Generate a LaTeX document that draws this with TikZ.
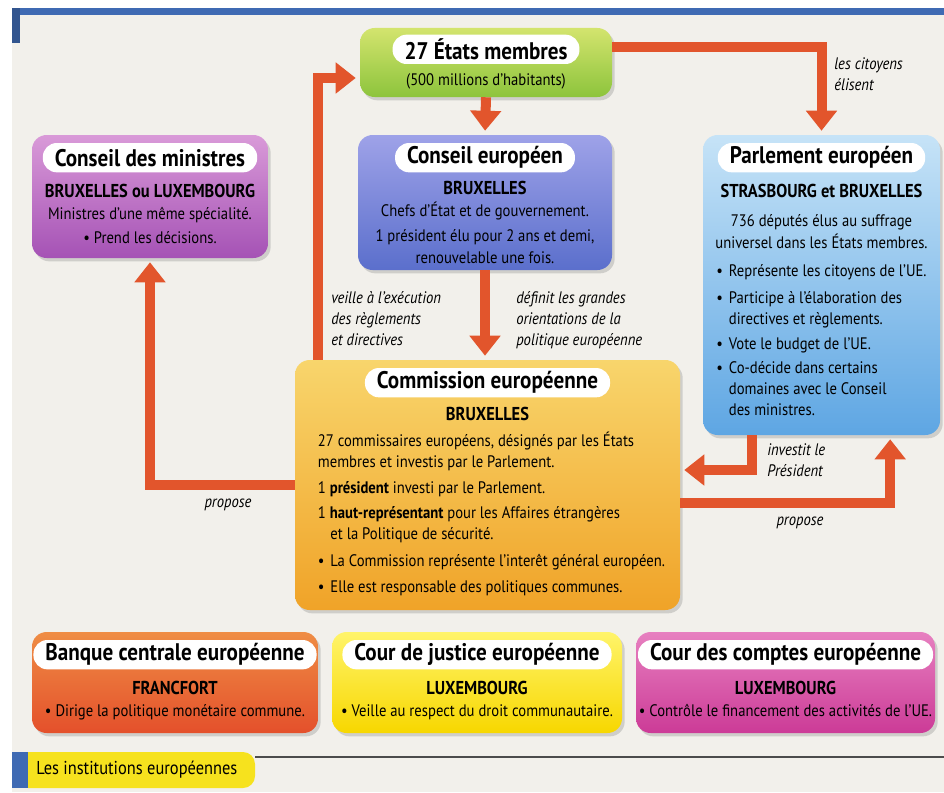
\documentclass[tikz,border=0pt]{standalone}
\usepackage{fontspec}
\setmainfont{PT Sans}[FakeStretch=0.88]
\usetikzlibrary{positioning,shadows,arrows.meta}
\definecolor{pagebg}{HTML}{F2F0EB}
\definecolor{bandblue}{HTML}{3F6AB3}
\definecolor{flowred}{HTML}{E2552C}
\definecolor{captionyellow}{HTML}{F6E21E}
\definecolor{etatstop}{HTML}{D3E46E}
\definecolor{etatsbottom}{HTML}{8DC43C}
\definecolor{ministrestop}{HTML}{D99AD8}
\definecolor{ministresbottom}{HTML}{A552B5}
\definecolor{conseiltop}{HTML}{9EA2E8}
\definecolor{conseilbottom}{HTML}{5B6FCC}
\definecolor{parlementtop}{HTML}{C6E3F7}
\definecolor{parlementbottom}{HTML}{5EA6E3}
\definecolor{commissiontop}{HTML}{F8D56C}
\definecolor{commissionbottom}{HTML}{F0A328}
\definecolor{banquetop}{HTML}{EF8D45}
\definecolor{banquebottom}{HTML}{E4502B}
\definecolor{justicetop}{HTML}{FFF46A}
\definecolor{justicebottom}{HTML}{F7D700}
\definecolor{comptestop}{HTML}{E780C0}
\definecolor{comptesbottom}{HTML}{CC3B97}
\newcommand{\puce}{\makebox[0.75em][l]{•}}
\newcommand{\suite}{\hspace*{0.75em}}
\tikzset{
	box/.style={rounded corners=11pt, drop shadow={opacity=0.3, shadow xshift=2pt, shadow yshift=-2.5pt}},
	pill/.style={fill=white, rounded corners=10.5pt, inner xsep=9pt, inner ysep=0pt, minimum height=22pt, font=\fontsize{18}{20}\selectfont\bfseries},
	place/.style={inner sep=0pt, font=\fontsize{14}{16}\selectfont\bfseries},
	body/.style={inner sep=0pt, align=center, font=\fontsize{12.5}{16.5}\selectfont},
	items/.style={inner sep=0pt, align=left, font=\fontsize{12.5}{15.75}\selectfont},
	note/.style={inner sep=0pt, align=left, font=\fontsize{12.5}{15.75}\selectfont\itshape},
	flow/.style={draw=flowred, line width=7.5pt, ->, shorten >=3pt},
}
\begin{document}
\begin{tikzpicture}[x=0.75pt, y=-0.75pt, >={Triangle[width=22.5pt,length=15pt]}]
	\useasboundingbox (0,0) rectangle (944,792);
	\fill[white] (0,0) rectangle (944,792);
	\fill[pagebg] (12,8) rectangle (944,792);
	\fill[bandblue] (12,8) rectangle (944,15);
	\fill[bandblue!80!black] (12,8) rectangle (20,43);

	% boxes
	\node[box, top color=etatstop, bottom color=etatsbottom, minimum width=189pt, minimum height=51.75pt] (etats) at (486,62.5) {};
	\node[box, top color=ministrestop, bottom color=ministresbottom, minimum width=177pt, minimum height=92.25pt] (ministres) at (150,196.5) {};
	\node[box, top color=conseiltop, bottom color=conseilbottom, minimum width=190.5pt, minimum height=101.25pt] (conseil) at (485,202.5) {};
	\node[box, top color=parlementtop, bottom color=parlementbottom, minimum width=177.75pt, minimum height=225pt] (parlement) at (821.5,285) {};
	\node[box, top color=commissiontop, bottom color=commissionbottom, minimum width=288.75pt, minimum height=187.5pt] (commission) at (487.5,485) {};
	\node[box, top color=banquetop, bottom color=banquebottom, minimum width=214.5pt, minimum height=75.75pt] (banque) at (175,682.5) {};
	\node[box, top color=justicetop, bottom color=justicebottom, minimum width=217.5pt, minimum height=75.75pt] (justice) at (477,682.5) {};
	\node[box, top color=comptestop, bottom color=comptesbottom, minimum width=224.25pt, minimum height=75.75pt] (comptes) at (785.5,682.5) {};

	% titles and texts
	\node[pill, below=5pt of etats.north] (etatstitle) {27 États membres};
	\node[body, below=6.5pt of etatstitle] (etatstext) {(500 millions d’habitants)};

	\node[pill, below=6pt of ministres.north] (ministrestitle) {Conseil des ministres};
	\node[place, below=8.5pt of ministrestitle] (ministresplace) {BRUXELLES ou LUXEMBOURG};
	\node[body, below=6.5pt of ministresplace] (ministrestext) {Ministres d’une même spécialité.\\[2pt]• Prend les décisions.};

	\node[pill, below=6pt of conseil.north] (conseiltitle) {Conseil européen};
	\node[place, below=6.5pt of conseiltitle] (conseilplace) {BRUXELLES};
	\node[body, below=5pt of conseilplace] (conseiltext) {Chefs d’État et de gouvernement.\\[2pt]1 président élu pour 2 ans et demi,\\renouvelable une fois.};

	\node[pill, below=6pt of parlement.north] (parlementtitle) {Parlement européen};
	\node[place, below=8.5pt of parlementtitle] (parlementplace) {STRASBOURG et BRUXELLES};
	\node[body, below=12pt of parlementplace] (parlementtext) {736 députés élus au suffrage\\universel dans les États membres.};
	\node[items, below=11.5pt of parlementtext] (parlementitems) {\puce Représente les citoyens de l’UE.\\[4.5pt]
		\puce Participe à l’élaboration des\\\suite directives et règlements.\\[3pt]
		\puce Vote le budget de l’UE.\\[2.5pt]
		\puce Co-décide dans certains\\\suite domaines avec le Conseil\\\suite des ministres.};

	\node[pill, below=6pt of commission.north] (commissiontitle) {Commission européenne};
	\node[place, below=7pt of commissiontitle] (commissionplace) {BRUXELLES};
	\node[items, below=8pt of commissionplace, xshift=3pt] (commissiontext) {27 commissaires européens, désignés par les États\\membres et investis par le Parlement.\\[4pt]
		1 \textbf{président} investi par le Parlement.\\[3pt]
		1 \textbf{haut-représentant} pour les Affaires étrangères\\\suite et la Politique de sécurité.\\[4pt]
		\puce La Commission représente l’interêt général européen.\\[4pt]
		\puce Elle est responsable des politiques communes.};

	\node[pill, below=6pt of banque.north] (banquetitle) {Banque centrale européenne};
	\node[place, below=8.5pt of banquetitle] (banqueplace) {FRANCFORT};
	\node[body, below=7pt of banqueplace] (banquetext) {• Dirige la politique monétaire commune.};

	\node[pill, below=6pt of justice.north] (justicetitle) {Cour de justice européenne};
	\node[place, below=8.5pt of justicetitle] (justiceplace) {LUXEMBOURG};
	\node[body, below=7pt of justiceplace] (justicetext) {• Veille au respect du droit communautaire.};

	\node[pill, below=6pt of comptes.north] (comptestitle) {Cour des comptes européenne};
	\node[place, below=8.5pt of comptestitle] (comptesplace) {LUXEMBOURG};
	\node[body, below=7pt of comptesplace] (comptestext) {• Contrôle le financement des activités de l’UE.};

	% arrows
	\coordinate (veillebend) at (318,78);
	\draw[flow] (etats.south) -- (conseil.north);
	\draw[flow] ([yshift=11.5pt]etats.east) -| (parlement.north);
	\draw[flow] (conseil.south) -- (conseil.south |- commission.north);
	\draw[flow] (veillebend |- commission.north) -- (veillebend) -- (veillebend -| etats.west);
	\draw[flow] (commission.west) -| (ministres.south);
	\draw[flow] ([yshift=-13.5pt]commission.east) -| ([xshift=51.5pt]parlement.south);
	\draw[flow] ([xshift=-52pt]parlement.south) |- ([yshift=11.25pt]commission.east);

	% arrow labels
	\node[note, anchor=north west] (elisent) at (834,57) {les citoyens\\élisent};
	\node[note, anchor=north west] (veille) at (331,291) {veille à l’exécution\\des règlements\\et directives};
	\node[note, anchor=north west] (definit) at (516,291) {définit les grandes\\orientations de la\\politique européenne};
	\node[note] (proposeleft) at (228,505) {propose};
	\node[note] (proposeright) at (800,523) {propose};
	\node[note, anchor=north west] (investit) at (767,443) {investit le\\Président};

	% caption
	\draw[black!70, line width=0.8pt] (255,757) -- (944,757);
	\fill[bandblue] (12,752) rectangle (28,788);
	\fill[captionyellow] (28,752) [rounded corners=9pt] -- (255,752) -- (255,788) [sharp corners] -- (28,788) -- cycle;
	\node[anchor=west, inner sep=0pt, font=\fontsize{14}{16}\selectfont] (caption) at (36,770) {Les institutions européennes};
\end{tikzpicture}
\end{document}
